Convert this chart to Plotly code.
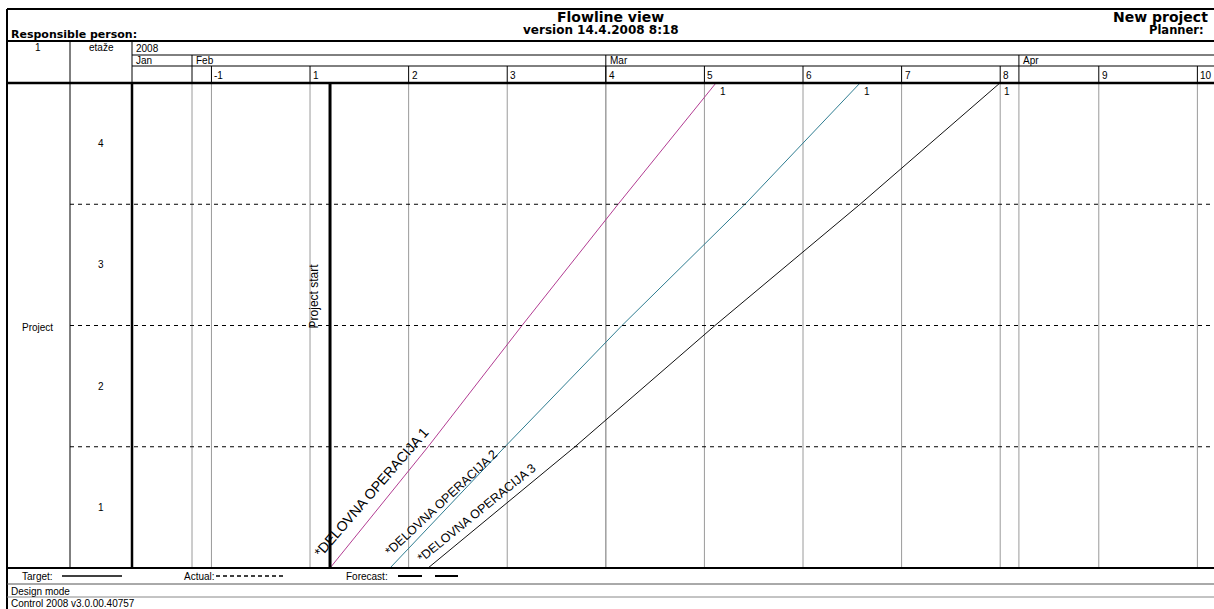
import plotly.graph_objects as go

# ---------------- data ----------------
floor_bounds = [0, 1, 2, 3, 4]
floor_labels = ["1", "2", "3", "4"]
op_names = ["*DELOVNA OPERACIJA 1", "*DELOVNA OPERACIJA 2", "*DELOVNA OPERACIJA 3"]
op1_days = [1.42, 8.38, 15.05, 21.87, 28.82]
op2_days = [5.68, 13.84, 22.15, 30.88, 39.05]
op3_days = [8.38, 18.81, 28.75, 39.05, 48.98]
op_end_labels = ["1", "1", "1"]
project_start_day = 1.42
week_labels = ["-1", "1", "2", "3", "4", "5", "6", "7", "8", "9", "10"]
week_days = [-7, 0, 7, 14, 21, 28, 35, 42, 49, 56, 63]
month_labels = ["Jan", "Feb", "Mar", "Apr"]
month_start_days = [-12.64, -8.38, 21.0, 50.33]
x_range = [-12.64, 64.18]

# ---------------- styling ----------------
op_colors = ["#b23c92", "#2f7d91", "#111111"]
W, H = 1214, 609
L, R, T, B = 132, 1214, 83, 568
BODY = "Liberation Sans, Arial, sans-serif"
HEAD = "DejaVu Sans, Verdana, sans-serif"


def fx(px):
    return (px - L) / (R - L)


def fy(py):
    return (B - py) / (B - T)


fig = go.Figure()
ops = [op1_days, op2_days, op3_days]
for name, days, col in zip(op_names, ops, op_colors):
    fig.add_trace(go.Scatter(x=days, y=floor_bounds, mode="lines", name=name,
                             line=dict(color=col, width=1), hoverinfo="skip",
                             showlegend=False))

shapes = []


def pline(x0, y0, x1, y1, w=1, color="black", dash=None):
    d = dict(type="line", xref="paper", yref="paper", x0=fx(x0), x1=fx(x1),
             y0=fy(y0), y1=fy(y1), line=dict(color=color, width=w))
    if dash:
        d["line"]["dash"] = dash
    shapes.append(d)


# frame / header grid
pline(7, 9, 1214, 9, 2)
pline(7, 9, 7, 609, 2)
pline(7, 41, 1214, 41, 2)
pline(132, 55, 1214, 55, 1)
pline(132, 66, 1214, 66, 1)
pline(7, 83, 1214, 83, 2.5)
pline(7, 568, 1214, 568, 2)
pline(7, 584, 1214, 584, 1, "#555")
pline(7, 597, 1214, 597, 1, "#888")
pline(70, 41, 70, 568, 1)
pline(132, 41, 132, 83, 1)
pline(132, 83, 132, 568, 2.5)

# week lines
for d in week_days:
    shapes.append(dict(type="line", xref="x", yref="paper", x0=d, x1=d,
                       y0=fy(66), y1=fy(83), line=dict(color="black", width=1)))
    shapes.append(dict(type="line", xref="x", yref="paper", x0=d, x1=d,
                       y0=0, y1=1, line=dict(color="#9a9a9a", width=1), layer="below"))
# month lines
for d in month_start_days[1:]:
    shapes.append(dict(type="line", xref="x", yref="paper", x0=d, x1=d,
                       y0=fy(55), y1=fy(83), line=dict(color="black", width=1)))
    shapes.append(dict(type="line", xref="x", yref="paper", x0=d, x1=d,
                       y0=0, y1=1, line=dict(color="#9a9a9a", width=1), layer="below"))

# floor separators
for f in floor_bounds[1:-1]:
    shapes.append(dict(type="line", xref="paper", yref="y", x0=fx(70), x1=1,
                       y0=f, y1=f, line=dict(color="black", width=1, dash="4px,4px")))

# project start
shapes.append(dict(type="line", xref="x", yref="paper", x0=project_start_day,
                   x1=project_start_day, y0=0, y1=1, line=dict(color="black", width=3)))

# legend samples
pline(62, 576, 122, 576, 1.5)
pline(216, 576, 284, 576, 1.5, dash="4px,3px")
pline(398, 576, 422, 576, 2)
pline(435, 576, 458, 576, 2)

ann = []


def ptext(x, y, text, size=10, font=BODY, xanchor="left"):
    ann.append(dict(xref="paper", yref="paper", x=fx(x), y=fy(y), text=text,
                    showarrow=False, xanchor=xanchor, yanchor="middle",
                    font=dict(family=font, size=size, color="black")))


# header
ptext(9, 35, "<b>Responsible person:</b>", 11, HEAD)
ptext(610, 17, "<b>Flowline view</b>", 14, HEAD, "center")
ptext(601, 30, "<b>version 14.4.2008 8:18</b>", 12, HEAD, "center")
ptext(1210, 17, "<b>New project</b>", 14, HEAD, "right")
ptext(1206, 30, "<b>Planner:</b>", 11.5, HEAD, "right")
ptext(38, 47, "1", 10, BODY, "center")
ptext(101, 47, "etaže", 10, BODY, "center")
ptext(134, 48, "2008", 10)
ptext(20, 576, "Target:", 10)
ptext(182, 576, "Actual:", 10)
ptext(344, 576, "Forecast:", 10)
ptext(9, 591, "Design mode", 10)
ptext(9, 603, "Control 2008 v3.0.00.40757", 10)
ptext(37, 327, "Project", 10, BODY, "center")

# month labels
for lab, d in zip(month_labels, month_start_days):
    ann.append(dict(xref="x", yref="paper", x=d, y=fy(60.5), text=lab, showarrow=False,
                    xanchor="left", yanchor="middle", xshift=2,
                    font=dict(family=BODY, size=10, color="black")))
# week labels
for lab, d in zip(week_labels, week_days):
    ann.append(dict(xref="x", yref="paper", x=d, y=fy(75), text=lab, showarrow=False,
                    xanchor="left", yanchor="middle", xshift=1,
                    font=dict(family=BODY, size=10, color="black")))
# floor labels
for lab, f0, f1 in zip(floor_labels, floor_bounds[:-1], floor_bounds[1:]):
    ann.append(dict(xref="paper", yref="y", x=fx(101), y=(f0 + f1) / 2, text=lab,
                    showarrow=False, xanchor="center", yanchor="middle",
                    font=dict(family=BODY, size=10, color="black")))
# end labels
for lab, days in zip(op_end_labels, ops):
    ann.append(dict(xref="x", yref="y", x=days[-1], y=floor_bounds[-1], text=lab,
                    showarrow=False, xanchor="left", yanchor="top", xshift=2, yshift=-1,
                    font=dict(family=BODY, size=10, color="black")))
# operation labels along lines
label_pos = [(4.35, 0.63, -49, 14), (9.30, 0.54, -43, 12.5), (11.85, 0.45, -39, 12.5)]
for name, (lx, ly, ang, sz) in zip(op_names, label_pos):
    ann.append(dict(xref="x", yref="y", x=lx, y=ly, text=name, showarrow=False,
                    textangle=ang, xanchor="center", yanchor="middle",
                    font=dict(family=BODY, size=sz, color="black")))
# project start label
ann.append(dict(xref="x", yref="y", x=project_start_day, y=2.24, text="Project start",
                showarrow=False, textangle=-90, xanchor="right", yanchor="middle",
                xshift=-7, font=dict(family=BODY, size=12, color="black")))

fig.update_layout(
    width=W, height=H,
    margin=dict(l=L, r=W - R, t=T, b=H - B, pad=0),
    paper_bgcolor="white", plot_bgcolor="white",
    xaxis=dict(range=x_range, showgrid=False, zeroline=False, showticklabels=False,
               ticks="", fixedrange=True),
    yaxis=dict(range=[0, 4], showgrid=False, zeroline=False, showticklabels=False,
               ticks="", fixedrange=True),
    shapes=shapes, annotations=ann, showlegend=False,
)
fig.write_html("out.html", config={"displayModeBar": False},
               post_script="document.body.style.margin='0';document.body.style.overflow='hidden';")
